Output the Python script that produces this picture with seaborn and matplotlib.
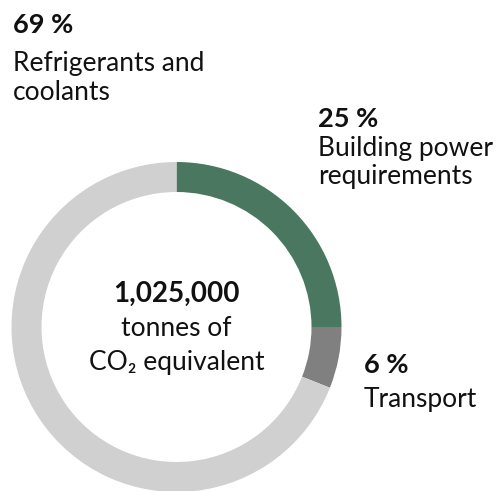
import matplotlib
matplotlib.use("Agg")
import matplotlib.pyplot as plt
import seaborn as sns

# ---- data ----
categories = ["Building power requirements", "Transport", "Refrigerants and coolants"]
shares = [25, 6, 69]
pct_labels = ["25 %", "6 %", "69 %"]
total_label = "1,025,000"
total_sub = ["tonnes of", "CO\u2082 equivalent"]

sns.set_theme(style="white")
FONT = ["Lato", "DejaVu Sans"]
plt.rcParams["font.family"] = FONT

colors = ["#4a7760", "#808080", "#d0d0d0"]

W, H = 496, 491
fig = plt.figure(figsize=(W / 100, H / 100), dpi=100)
ax = fig.add_axes([0, 0, 1, 1])

cx, cy, R = 176.5, H - 327, 165
ax.pie(shares, colors=colors, startangle=90, counterclock=False,
       center=(cx, cy), radius=R,
       wedgeprops=dict(width=30, linewidth=0))
ax.set_xlim(0, W)
ax.set_ylim(0, H)
ax.set_aspect("auto")
ax.axis("off")

txt = "#111111"
bold_size = 19.5
reg_size = 19


def put(x, y_top, s, bold=False, size=None, ha="left"):
    ax.text(x, H - y_top, s, ha=ha, va="baseline", color=txt,
            fontsize=size or (bold_size if bold else reg_size),
            fontweight="bold" if bold else "normal", family=FONT)

# Refrigerants label (top-left)
put(13, 33, pct_labels[2], bold=True)
put(13, 71, "Refrigerants and")
put(13, 100, "coolants")

# Building power label
put(318, 127, pct_labels[0], bold=True)
put(318, 156, "Building power")
put(318, 184, "requirements")

# Transport label
put(364, 373, pct_labels[1], bold=True)
put(364, 407, "Transport")

# centre
put(cx, 302, total_label, bold=True, ha="center", size=20)
put(cx, 336, total_sub[0], ha="center")
put(cx, 370, total_sub[1], ha="center")

fig.savefig("out.png", dpi=100)
